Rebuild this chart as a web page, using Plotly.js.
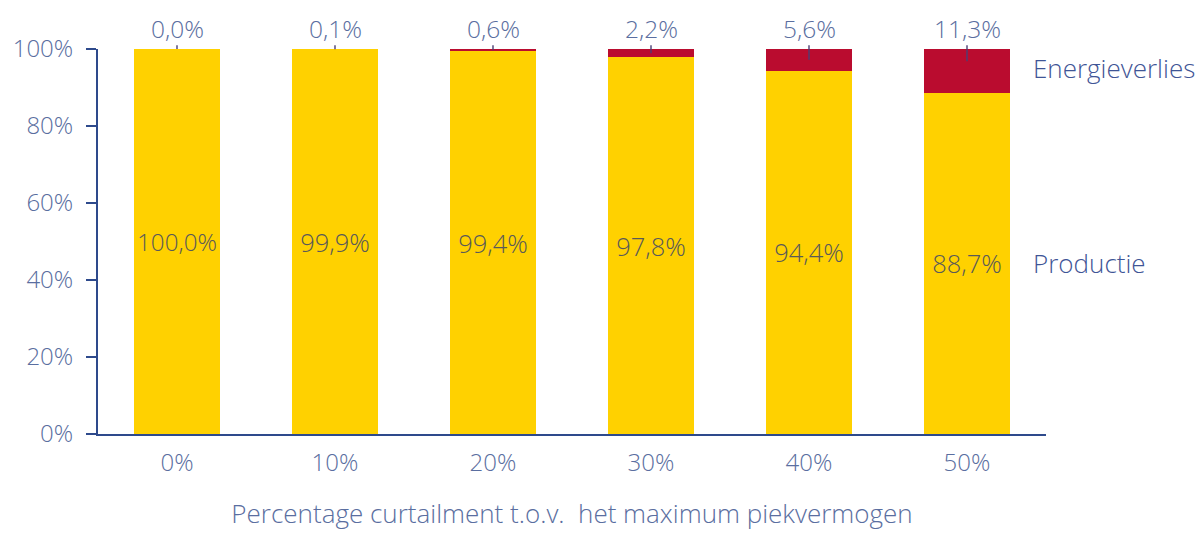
<!DOCTYPE html>
<html><head><meta charset="utf-8">
<script src="https://cdn.plot.ly/plotly-3.0.1.min.js"></script>
<style>body{margin:0;background:#fff}</style>
</head><body>
<div id="chart" style="width:1204px;height:534px"></div>
<script>
const categories = ['0%', '10%', '20%', '30%', '40%', '50%'];
const productie = [100.0, 99.9, 99.4, 97.8, 94.4, 88.7];
const energieverlies = [0.0, 0.1, 0.6, 2.2, 5.6, 11.3];
const productieLabels = ['100,0%', '99,9%', '99,4%', '97,8%', '94,4%', '88,7%'];
const verliesLabels = ['0,0%', '0,1%', '0,6%', '2,2%', '5,6%', '11,3%'];
const yTicks = [0, 20, 40, 60, 80, 100];
const yTickLabels = ['0%', '20%', '40%', '60%', '80%', '100%'];

const FONT = 'Open Sans, Lato, sans-serif';
const AXIS = '#2E4A8C';
const TXT = '#5A6EA0';

const traces = [
  {type:'bar', name:'Productie', x:categories, y:productie, marker:{color:'#FFD100'},
   text:productieLabels, textposition:'inside', insidetextanchor:'middle', textangle:0,
   insidetextfont:{family:FONT, size:25.5, color:'#595959', weight:300}, hoverinfo:'skip'},
  {type:'bar', name:'Energieverlies', x:categories, y:energieverlies, marker:{color:'#BA0C2F'},
   textposition:'none', hoverinfo:'skip'}
];

const annotations = [];
categories.forEach((c, i) => {
  const top = productie[i] + energieverlies[i];
  annotations.push({x:c, y:top - Math.min(energieverlies[i] / 2, 3.2), xref:'x', yref:'y',
    ax:0, ay:top + 5.4, ayref:'y', showarrow:true, arrowhead:0, arrowwidth:1.4,
    arrowcolor:'#4B3F75', standoff:0, startstandoff:0,
    text:verliesLabels[i], font:{family:FONT, size:24.5, color:TXT, weight:300}, borderpad:0});
});
const last = categories.length - 1;
annotations.push({x:categories[last], y:productie[last] + energieverlies[last] / 2 + 0.6, xref:'x', yref:'y',
  xanchor:'left', xshift:64, showarrow:false, text:'Energieverlies',
  font:{family:FONT, size:26, color:'#3F5596', weight:300}});
annotations.push({x:categories[last], y:productie[last] / 2, xref:'x', yref:'y',
  xanchor:'left', xshift:64, showarrow:false, text:'Productie',
  font:{family:FONT, size:26, color:'#3F5596', weight:300}});

const layout = {
  width:1204, height:534, barmode:'stack', bargap:0.456, showlegend:false,
  margin:{l:98, r:158, t:49, b:100}, paper_bgcolor:'#fff', plot_bgcolor:'#fff',
  font:{family:FONT, color:TXT, weight:300},
  xaxis:{type:'category', range:[-0.5, 5.5], showline:true, linecolor:AXIS, linewidth:2, ticks:'', showgrid:false,
    tickfont:{family:FONT, size:24, color:TXT, weight:300}, ticklabelstandoff:6,
    title:{text:'Percentage curtailment t.o.v.  het maximum piekvermogen', standoff:28,
      font:{family:FONT, size:26, color:TXT, weight:300}}},
  yaxis:{range:[0,100], showline:true, linecolor:AXIS, linewidth:2, ticks:'outside', ticklen:10,
    tickwidth:2, tickcolor:AXIS, showgrid:false, zeroline:false, tickvals:yTicks, ticktext:yTickLabels,
    ticklabelstandoff:8, tickfont:{family:FONT, size:24, color:TXT, weight:300}},
  annotations:annotations
};
Plotly.newPlot('chart', traces, layout, {displayModeBar:false, staticPlot:true});
</script>
</body></html>
